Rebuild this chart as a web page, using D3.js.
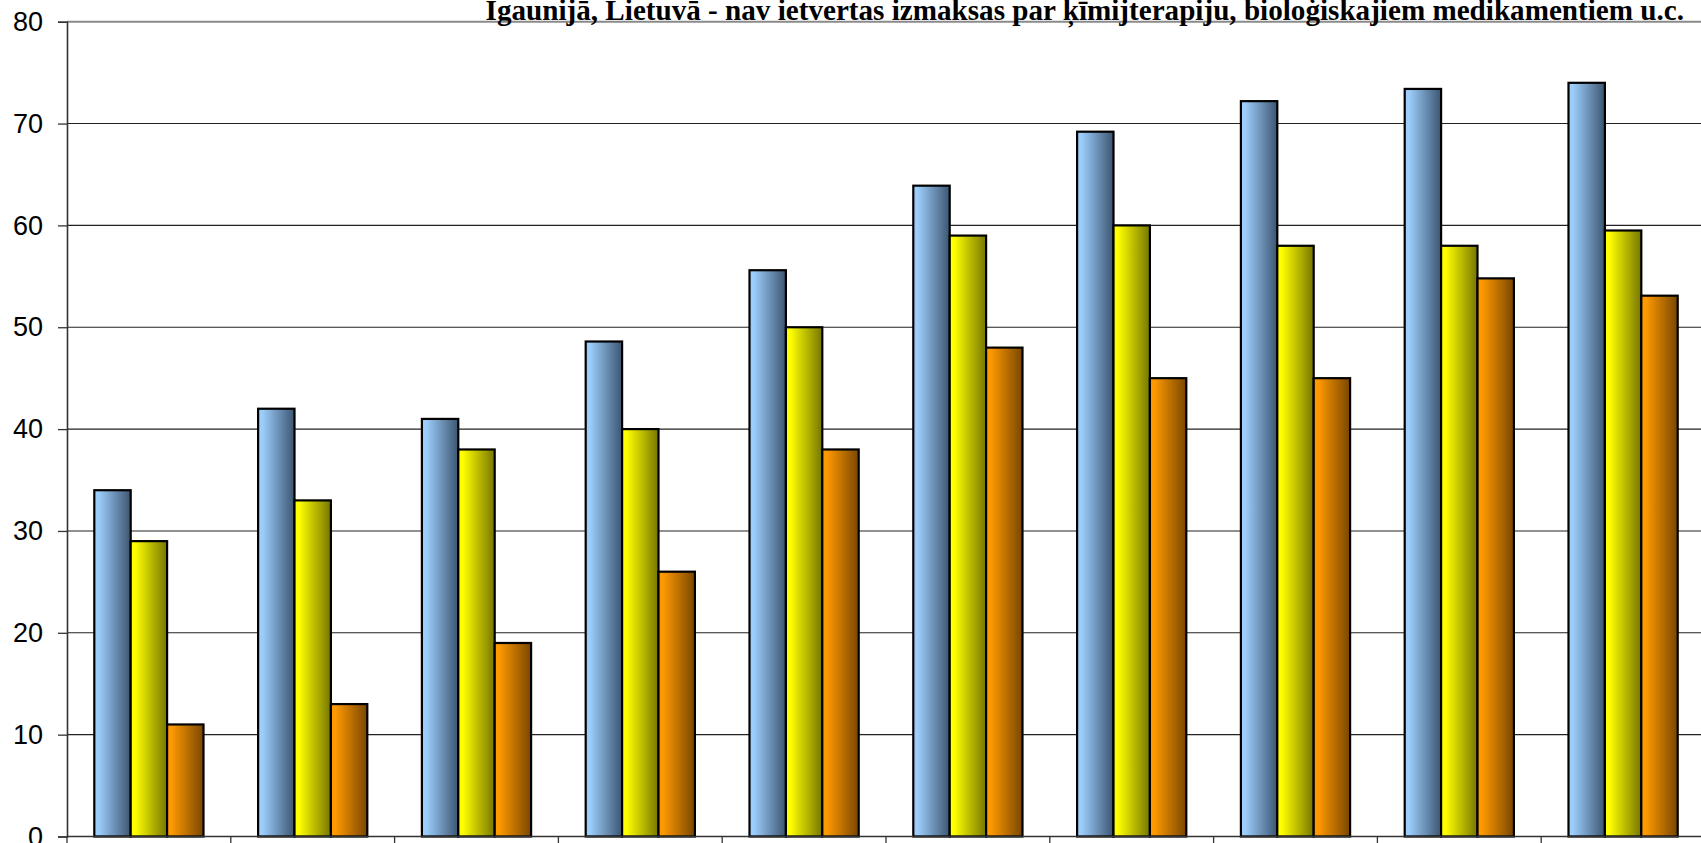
<!DOCTYPE html>
<html>
<head>
<meta charset="utf-8">
<script src="https://cdn.jsdelivr.net/npm/d3@7"></script>
<style>
  html, body { margin: 0; padding: 0; background: #fff; overflow: hidden; }
  svg { display: block; }
</style>
</head>
<body>
<div id="chart"></div>
<script>
// ---- data ----
const categories = ["1", "2", "3", "4", "5", "6", "7", "8", "9", "10"];
const seriesNames = ["Sērija 1", "Sērija 2", "Sērija 3"];
const series1 = [34, 42, 41, 48.6, 55.6, 63.9, 69.2, 72.2, 73.4, 74.0];
const series2 = [29, 33, 38, 40, 50, 59, 60, 58, 58, 59.5];
const series3 = [11, 13, 19, 26, 38, 48, 45, 45, 54.8, 53.1];
const yTicks = [0, 10, 20, 30, 40, 50, 60, 70, 80];
const titleLine = "Igaunijā, Lietuvā - nav ietvertas izmaksas par ķīmijterapiju, bioloģiskajiem medikamentiem u.c.";

(function () {
const seriesValues = [series1, series2, series3];
const gradColors = [
  ["#9ccdfb", "#3c5571"],
  ["#ffff00", "#767600"],
  ["#ff9900", "#784600"]
];

const W = 1701, H = 843;
const plotLeft = 67, plotTop = 21.7, plotBottom = 836.5;
const step = 163.8;

const svg = d3.select("#chart").append("svg").attr("width", W).attr("height", H);

const defs = svg.append("defs");
gradColors.forEach((c, i) => {
  const g = defs.append("linearGradient").attr("id", "g" + i)
    .attr("x1", "0%").attr("x2", "100%").attr("y1", "0%").attr("y2", "0%");
  g.append("stop").attr("offset", "0%").attr("stop-color", c[0]);
  g.append("stop").attr("offset", "12%").attr("stop-color", c[0]);
  g.append("stop").attr("offset", "100%").attr("stop-color", c[1]);
});

const x = d3.scaleBand().domain(categories).range([plotLeft, plotLeft + step * categories.length]).padding(0);
const x1 = d3.scaleBand().domain(seriesNames).range([0, x.bandwidth()]).paddingInner(0).paddingOuter(0.75);
const y = d3.scaleLinear().domain([0, 80]).range([plotBottom, plotTop]);

// gridlines
svg.append("g").selectAll("line").data(yTicks.filter(t => t > 0)).join("line")
  .attr("x1", plotLeft).attr("x2", W + 10)
  .attr("y1", d => y(d)).attr("y2", d => y(d))
  .attr("stroke", d => d === 80 ? "#8a8a8a" : "#222")
  .attr("stroke-width", d => d === 80 ? 2 : 1.1);

// bars
const data = categories.map((c, i) => ({ c, vals: seriesValues.map((s, j) => ({ key: seriesNames[j], j, v: s[i] })) }));
const grp = svg.append("g").selectAll("g").data(data).join("g")
  .attr("transform", d => `translate(${x(d.c)},0)`);
grp.selectAll("rect").data(d => d.vals).join("rect")
  .attr("x", d => x1(d.key))
  .attr("width", x1.bandwidth())
  .attr("y", d => y(d.v))
  .attr("height", d => y(0) - y(d.v))
  .attr("fill", d => `url(#g${d.j})`)
  .attr("stroke", "#000")
  .attr("stroke-width", 2.2);

// y axis
const yAxis = d3.axisLeft(y).tickValues(yTicks).tickSize(9).tickPadding(15).tickFormat(d3.format("d"));
const ya = svg.append("g").attr("transform", `translate(${plotLeft},0)`).call(yAxis);
ya.select(".domain").attr("stroke", "#333").attr("stroke-width", 1.6);
ya.selectAll(".tick line").attr("stroke", "#333").attr("stroke-width", 1.3);
ya.selectAll(".tick text").attr("font-family", "'Liberation Sans', Arial, sans-serif")
  .attr("font-size", 27).attr("fill", "#000");

// x axis (ticks at category boundaries)
const boundaries = categories.map(c => x(c)).concat([x(categories[categories.length - 1]) + x.bandwidth()]);
svg.append("line").attr("x1", plotLeft).attr("x2", W + 10).attr("y1", y(0)).attr("y2", y(0))
  .attr("stroke", "#333").attr("stroke-width", 1.6);
svg.append("g").selectAll("line").data(boundaries).join("line")
  .attr("x1", d => d).attr("x2", d => d).attr("y1", y(0)).attr("y2", y(0) + 10)
  .attr("stroke", "#333").attr("stroke-width", 1.3);

// title (second line visible)
const t = svg.append("text")
  .attr("x", 1684).attr("y", 19.5)
  .attr("text-anchor", "end")
  .attr("font-family", "'Liberation Serif', 'Times New Roman', serif")
  .attr("font-weight", "bold")
  .attr("font-size", 27)
  .attr("fill", "#000")
  .text(titleLine);
const len = t.node().getComputedTextLength();
t.attr("font-size", 27 * 1199 / len);
})();
</script>
</body>
</html>
